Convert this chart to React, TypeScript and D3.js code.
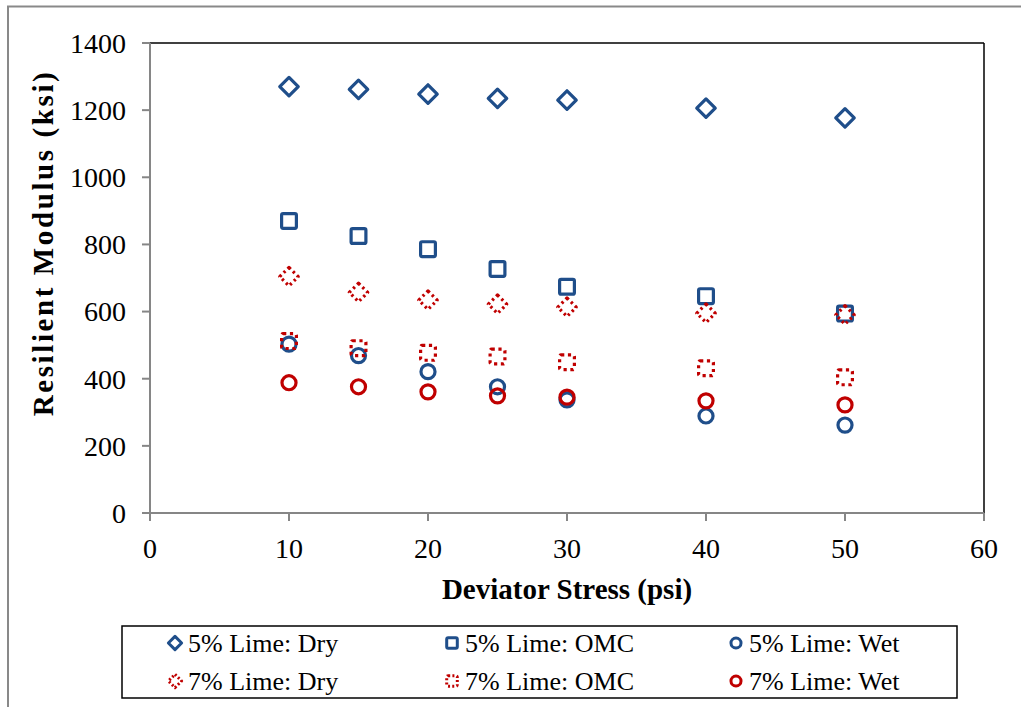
import React from "react";
import * as d3 from "d3";

const stress = [10, 15, 20, 25, 30, 40, 50];
const lime5Dry = [1270, 1262, 1248, 1235, 1230, 1206, 1177];
const lime5Omc = [870, 825, 786, 727, 674, 646, 594];
const lime5Wet = [503, 469, 421, 376, 337, 289, 262];
const lime7Dry = [704, 657, 634, 622, 613, 595, 590];
const lime7Omc = [512, 491, 477, 466, 449, 431, 404];
const lime7Wet = [388, 376, 361, 349, 345, 334, 322];

const xTicks = [0, 10, 20, 30, 40, 50, 60];
const yTicks = [0, 200, 400, 600, 800, 1000, 1200, 1400];

const BLUE = "#1F4E8A";
const RED = "#C00000";
const FONT = "'Liberation Serif', 'Times New Roman', serif";

type Shape = "diamond" | "square" | "circle";
interface Series {
  name: string;
  values: number[];
  shape: Shape;
  color: string;
  dash?: string;
}

const series: Series[] = [
  { name: "5% Lime: Dry", values: lime5Dry, shape: "diamond", color: BLUE },
  { name: "5% Lime: OMC", values: lime5Omc, shape: "square", color: BLUE },
  { name: "5% Lime: Wet", values: lime5Wet, shape: "circle", color: BLUE },
  { name: "7% Lime: Dry", values: lime7Dry, shape: "diamond", color: RED, dash: "2.4,3.2" },
  { name: "7% Lime: OMC", values: lime7Omc, shape: "square", color: RED, dash: "3.2,3.6" },
  { name: "7% Lime: Wet", values: lime7Wet, shape: "circle", color: RED },
];

function Marker({ shape, x, y, s, color, dash, sw }: { shape: Shape; x: number; y: number; s: number; color: string; dash?: string; sw: number }) {
  const common = { fill: "none", stroke: color, strokeWidth: sw, strokeDasharray: dash };
  if (shape === "diamond") {
    const h = s * 1.25;
    return <path d={`M${x},${y - h}L${x + h},${y}L${x},${y + h}L${x - h},${y}Z`} {...common} strokeLinejoin="round" />;
  }
  if (shape === "square") {
    return <rect x={x - s} y={y - s} width={2 * s} height={2 * s} rx={1.5} {...common} />;
  }
  return <circle cx={x} cy={y} r={s * 0.95} {...common} />;
}

export default function App() {
  const left = 150, right = 984, top = 43, bottom = 513;
  const x = d3.scaleLinear().domain([0, 60]).range([left, right]);
  const y = d3.scaleLinear().domain([0, 1400]).range([bottom, top]);

  const legendCols = [175, 452, 736];
  const legendRows = [643, 681];

  return (
    <svg width={1021} height={707} style={{ position: "absolute", left: 0, top: 0 }} fontFamily={FONT}>
      <rect x={0} y={0} width={1021} height={707} fill="#fff" />
      <rect x={8} y={6.5} width={1040} height={740} fill="none" stroke="#898989" strokeWidth={2} />
      <line x1={left} y1={top} x2={right} y2={top} stroke="#000" strokeWidth={1.5} />
      <line x1={right} y1={top} x2={right} y2={bottom} stroke="#000" strokeWidth={1.5} />
      <line x1={left} y1={top} x2={left} y2={bottom} stroke="#868686" strokeWidth={2} />
      <line x1={left} y1={bottom} x2={right} y2={bottom} stroke="#868686" strokeWidth={2} />
      {yTicks.map((t) => (
        <g key={"y" + t}>
          <line x1={left - 8} x2={left} y1={y(t)} y2={y(t)} stroke="#868686" strokeWidth={2} />
          <text x={126} y={y(t)} dy="0.35em" textAnchor="end" fontSize={28} fill="#000">
            {t}
          </text>
        </g>
      ))}
      {xTicks.map((t) => (
        <g key={"x" + t}>
          <line x1={x(t)} x2={x(t)} y1={bottom} y2={bottom + 8} stroke="#868686" strokeWidth={2} />
          <text x={x(t)} y={558} textAnchor="middle" fontSize={28} fill="#000">
            {t}
          </text>
        </g>
      ))}
      <text x={567} y={599} textAnchor="middle" fontSize={29} fontWeight="bold" fill="#000">
        Deviator Stress (psi)
      </text>
      <text transform={`translate(53,243) rotate(-90)`} textAnchor="middle" fontSize={29} fontWeight="bold" letterSpacing={2.6} fill="#000">
        Resilient Modulus (ksi)
      </text>
      {series.map((s) => (
        <g key={s.name}>
          {s.values.map((v, i) => (
            <Marker key={i} shape={s.shape} x={x(stress[i])} y={y(v)} s={7.4} color={s.color} dash={s.dash} sw={3.2} />
          ))}
        </g>
      ))}
      <rect x={122} y={626} width={835} height={72} fill="#fff" stroke="#000" strokeWidth={1.5} />
      {series.map((s, i) => {
        const cx = legendCols[i % 3];
        const cy = legendRows[Math.floor(i / 3)];
        return (
          <g key={"l" + s.name}>
            <Marker shape={s.shape} x={cx} y={cy} s={5.3} color={s.color} dash={s.dash ? "2,2.2" : undefined} sw={3} />
            <text x={cx + 13} y={cy} dy="0.35em" fontSize={26} fill="#000">
              {s.name}
            </text>
          </g>
        );
      })}
    </svg>
  );
}
